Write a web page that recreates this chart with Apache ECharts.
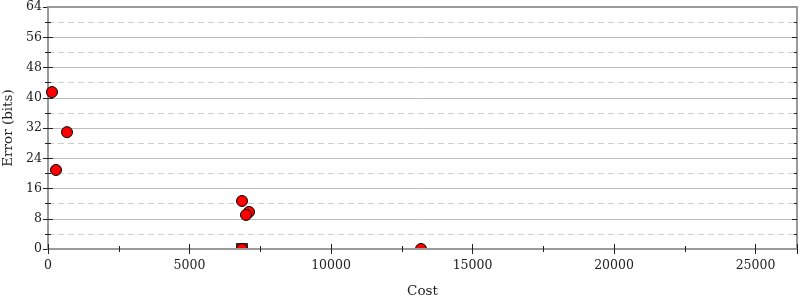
<!DOCTYPE html>
<html><head><meta charset="utf-8">
<script src="https://cdn.jsdelivr.net/npm/echarts@6/dist/echarts.min.js"></script>
<style>html,body{margin:0;padding:0;background:#fff}#c{width:800px;height:300px}</style>
</head><body><div id="c"></div>
<script>
const costs = [141, 671, 283, 6855, 7102, 6997, 6855, 13180];
const errors = [41.5, 30.9, 20.9, 12.7, 9.8, 9.0, 0, 0];
const startCost = [6855];
const startError = [0];
const xTicks = [0, 5000, 10000, 15000, 20000, 25000];
const yTicks = [0, 8, 16, 24, 32, 40, 48, 56, 64];

const FONT = 'DejaVu Serif';
const xMin = xTicks[0], xMax = 26465, xInt = 5000;
const yMin = yTicks[0], yMax = yTicks[yTicks.length - 1], yInt = 8;
const axisGrey = '#9a9a9a';
const tickCol = '#222';

function xAx(extra) {
  return Object.assign({
    type: 'value', min: xMin, max: xMax, interval: xInt, position: 'bottom', z: 10,
    axisLine: { show: false }, axisLabel: { show: false },
    axisTick: { show: false }, splitLine: { show: false },
    minorTick: { show: false }
  }, extra);
}
function yAx(extra) {
  return Object.assign({
    type: 'value', min: yMin, max: yMax, interval: yInt, position: 'left',
    axisLine: { show: false }, axisLabel: { show: false },
    axisTick: { show: false }, splitLine: { show: false },
    minorTick: { show: false }
  }, extra);
}
const tickStyle = { color: tickCol, width: 1 };

const chart = echarts.init(document.getElementById('c'));
chart.setOption({
  animation: false,
  grid: { left: 48, right: 3, top: 7, bottom: 51, containLabel: false, outerBoundsMode: 'none' },
  graphic: [{
    type: 'rect', z: 6, silent: true,
    shape: { x: 49, y: 249, width: 747, height: 8 },
    style: { fill: '#fff' }
  }],
  xAxis: [
    xAx({
      name: 'Cost', nameLocation: 'middle', nameGap: 35,
      nameTextStyle: { fontFamily: FONT, fontSize: 13.5, color: '#222' },
      axisLine: { show: true, onZero: false, lineStyle: { color: axisGrey, width: 2 } },
      axisLabel: { show: true, fontFamily: FONT, fontSize: 12.5, color: '#222', margin: 10,
        showMaxLabel: false, formatter: v => String(v) },
      axisTick: { show: true, inside: true, length: 5, lineStyle: tickStyle },
      minorTick: { show: true, splitNumber: 2, length: 3, lineStyle: tickStyle }
    }),
    xAx({
      axisTick: { show: true, inside: false, length: 5, lineStyle: tickStyle },
      minorTick: { show: true, splitNumber: 2, length: 3, lineStyle: tickStyle }
    }),
    xAx({ position: 'top', axisLine: { show: true, onZero: false, lineStyle: { color: axisGrey, width: 2 } } })
  ],
  yAxis: [
    yAx({
      name: 'Error (bits)', nameLocation: 'middle', nameGap: 32,
      nameTextStyle: { fontFamily: FONT, fontSize: 13.5, color: '#222' },
      axisLine: { show: true, onZero: false, lineStyle: { color: axisGrey, width: 2 } },
      axisLabel: { show: true, fontFamily: FONT, fontSize: 12.5, color: '#222', margin: 6 },
      axisTick: { show: true, inside: true, length: 5, lineStyle: tickStyle },
      minorTick: { show: true, splitNumber: 2, length: 3, lineStyle: tickStyle },
      splitLine: { show: true, lineStyle: { color: '#bdbdbd', width: 1 } },
      minorSplitLine: { show: true, lineStyle: { color: '#cfcfcf', width: 1, type: [6, 4] } }
    }),
    yAx({
      axisTick: { show: true, inside: false, length: 5, lineStyle: tickStyle },
      minorTick: { show: true, splitNumber: 2, length: 3, lineStyle: tickStyle }
    }),
    yAx({
      position: 'right',
      axisLine: { show: true, onZero: false, lineStyle: { color: axisGrey, width: 2 } },
      axisTick: { show: true, inside: true, length: 5, lineStyle: tickStyle },
      minorTick: { show: true, splitNumber: 2, length: 3, lineStyle: tickStyle }
    }),
    yAx({
      position: 'right',
      axisTick: { show: true, inside: false, length: 5, lineStyle: tickStyle },
      minorTick: { show: true, splitNumber: 2, length: 3, lineStyle: tickStyle }
    })
  ],
  series: [
    {
      type: 'scatter', xAxisIndex: 0, yAxisIndex: 0,
      data: startCost.map((c, i) => [c, startError[i]]),
      symbol: 'rect', symbolSize: 12,
      itemStyle: { color: '#000' }, z: 3
    },
    {
      type: 'scatter', xAxisIndex: 0, yAxisIndex: 0,
      data: costs.map((c, i) => [c, errors[i]]),
      symbol: 'circle', symbolSize: 11,
      itemStyle: { color: '#ff0000', borderColor: '#000', borderWidth: 1, opacity: 1 },
      z: 4
    }
  ]
});
</script></body></html>
